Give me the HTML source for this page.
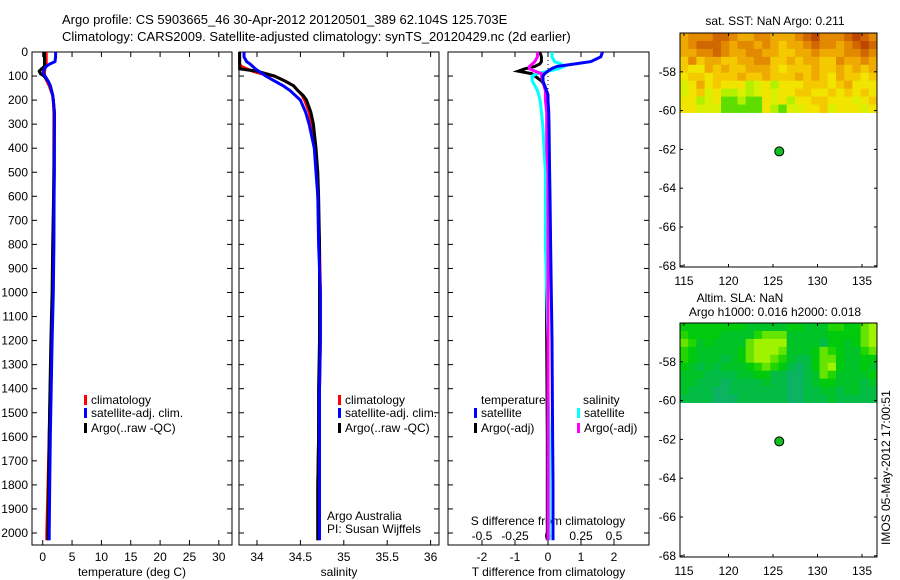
<!DOCTYPE html>
<html><head><meta charset="utf-8"><style>
body{margin:0;background:#fff}
svg{display:block;font-family:"Liberation Sans",sans-serif;font-size:12px}
</style></head><body>
<svg id="fig" width="900" height="580" xmlns="http://www.w3.org/2000/svg">
<rect width="900" height="580" fill="#fff"/>
<text x="62" y="24" font-size="13">Argo profile: CS 5903665_46 30-Apr-2012 20120501_389 62.104S 125.703E</text>
<text x="62" y="41" font-size="13">Climatology: CARS2009. Satellite-adjusted climatology: synTS_20120429.nc (2d earlier)</text>
<g id="g"></g>
<text transform="translate(890,545) rotate(-90)" font-size="12">IMOS 05-May-2012 17:00:51</text>
</svg>
<script>
// ---- profile data ----
const depth = [0,20,40,50,60,70,80,90,100,120,140,160,180,200,250,300,400,500,600,800,1000,1200,1400,1600,1800,2000,2030];
const tempClim = [0.6,0.6,0.6,0.6,0.5,0.4,0.3,0.3,0.3,0.7,1.1,1.4,1.7,1.8,1.9,1.9,1.9,1.9,1.85,1.8,1.7,1.5,1.3,1.1,0.9,0.7,0.7];
const tempSat = [2.2,2.2,2.1,1.2,0.6,0.3,0.1,0.1,0.4,0.9,1.3,1.5,1.7,1.8,2.0,2.0,2.0,2.0,1.95,1.9,1.8,1.6,1.45,1.3,1.2,1.1,1.1];
const tempArgo = [0.3,0.3,0.3,0.3,0.3,-0.2,-0.6,-0.4,0.2,0.9,1.3,1.5,1.7,1.8,2.0,2.0,1.95,1.9,1.85,1.7,1.6,1.4,1.25,1.1,1.0,0.9,0.9];
const salClim = [33.8,33.8,33.8,33.8,33.82,33.88,33.95,34.05,34.2,34.32,34.42,34.47,34.52,34.55,34.6,34.63,34.67,34.69,34.7,34.72,34.73,34.73,34.72,34.71,34.7,34.7,34.7];
const salSat = [33.85,33.85,33.88,33.92,33.95,33.98,34.02,34.06,34.1,34.2,34.3,34.38,34.44,34.5,34.56,34.6,34.66,34.68,34.7,34.71,34.73,34.73,34.72,34.72,34.72,34.72,34.72];
const salArgo = [33.8,33.8,33.8,33.8,33.8,33.8,34.0,34.1,34.2,34.32,34.42,34.47,34.53,34.57,34.62,34.65,34.68,34.7,34.71,34.72,34.72,34.72,34.71,34.71,34.7,34.7,34.7];
const dTSat = [1.65,1.6,1.3,0.8,0.27,0.1,0,-0.1,-0.15,-0.15,-0.1,-0.05,0,0,0.02,0.03,0.04,0.05,0.06,0.08,0.1,0.12,0.13,0.14,0.15,0.15,0.15];
const dTArgo = [-0.25,-0.2,-0.2,-0.25,-0.4,-0.7,-0.9,-0.5,-0.4,-0.2,-0.1,-0.05,0,0,0,0,-0.02,-0.03,-0.03,-0.05,-0.05,-0.04,-0.03,-0.02,-0.02,-0.02,-0.02];
const dSSat = [0.03,0.03,0.05,0.1,0.12,0.08,0.0,-0.08,-0.12,-0.12,-0.1,-0.08,-0.07,-0.06,-0.05,-0.04,-0.03,-0.02,-0.02,-0.02,-0.01,0,0,0.01,0.01,0.01,0.01];
const dSArgo = [-0.08,-0.08,-0.1,-0.12,-0.14,-0.14,-0.1,-0.05,-0.05,-0.04,-0.03,-0.02,-0.02,-0.02,-0.01,-0.01,-0.01,0,0,0,0,0,0,0,0,0,0];
const depthTicks = [0,100,200,300,400,500,600,700,800,900,1000,1100,1200,1300,1400,1500,1600,1700,1800,1900,2000];
const tempTicks = [0,5,10,15,20,25,30];
const salTicks = [34,34.5,35,35.5,36];
const salTickLabels = ["34","34.5","35","35.5","36"];
const dTTicks = [-2,-1,0,1,2];
const dSTicks = [-0.5,-0.25,0,0.25,0.5];
const dSTickLabels = ["-0.5","-0.25","0","0.25","0.5"];
// ---- map data ----
const lonTicks = [115,120,125,130,135];
const latTicks = [-58,-60,-62,-64,-66,-68];
const argoLon = 125.703, argoLat = -62.104;
const sstRows = [
"677788766776667897778987",
"678887677676566787767898",
"667787667766556676667787",
"575665566775565665576676",
"544656556665455565565656",
"455455565565556565465545",
"346454442342444555456444",
"345342232343445544545454",
"442341121143424455444345",
"443331111142133445344434"];
const slaRows = [
"444444443333344333554467",
"544443333566633333444467",
"653433336777733332443467",
"543333346777633346543356",
"543332346776532246643344",
"432323334565421246743343",
"333222233442211236533334",
"332221222232211234433323",
"322211222222211223323322",
"222211122222211222322222"];

const NS="http://www.w3.org/2000/svg", G=document.getElementById('g');
function el(t,a,p){const e=document.createElementNS(NS,t);for(const k in a)e.setAttribute(k,a[k]);(p||G).appendChild(e);return e;}
function txt(x,y,s,anchor,p){const e=el('text',{x:x,y:y,'text-anchor':anchor||'start'},p);e.textContent=s;return e;}
const yD = d => 52 + d*0.2405;

function panel(name,x0,x1,xs,ticks,labels,xlabel){
  const g=el('g',{});
  
  
  el('rect',{x:x0,y:52,width:x1-x0,height:493,fill:'none',stroke:'#000'},g);
  depthTicks.forEach(d=>{el('line',{x1:x0,x2:x0+5,y1:yD(d),y2:yD(d),stroke:'#000'},g);el('line',{x1:x1-5,x2:x1,y1:yD(d),y2:yD(d),stroke:'#000'},g);});
  if(ticks) ticks.forEach((t,i)=>{const x=xs(t);el('line',{x1:x,x2:x,y1:52,y2:57,stroke:'#000'},g);el('line',{x1:x,x2:x,y1:540,y2:545,stroke:'#000'},g);
    const l=txt(x,561,labels[i],'middle',g);});
  if(xlabel){const l=txt((x0+x1)/2,576,xlabel,'middle',g);}
  return g;
}
function line(g,xs,vals,color,name,w){
  const pts=vals.map((v,i)=>xs(v).toFixed(1)+','+yD(depth[i]).toFixed(1)).join(' ');
  const p=el('polyline',{points:pts,fill:'none',stroke:color,'stroke-width':w||3},g);
  
  
}
function legend(g,x,y,color,label){
  el('rect',{x:x,y:y-9,width:3,height:10,fill:color},g);
  const t=txt(x+7,y,label,'start',g);
  
  
}
depthTicks.forEach(d=>{const t=txt(28,yD(d)+4,String(d),'end');
  
  });

const xT = v => 42.7 + v*5.87;
const p1=panel('temperature-panel',32,232,xT,tempTicks,tempTicks.map(String),'temperature (deg C)');
line(p1,xT,tempClim,'#f00','temp-climatology-line');
line(p1,xT,tempArgo,'#000','temp-argo-line');
line(p1,xT,tempSat,'#00f','temp-satellite-line');
legend(p1,84,404,'#f00','climatology');legend(p1,84,417,'#00f','satellite-adj. clim.');legend(p1,84,432,'#000','Argo(..raw -QC)');

const xS = v => 257 + (v-34)*86.8;
const p2=panel('salinity-panel',239,439,xS,salTicks,salTickLabels,'salinity');
line(p2,xS,salClim,'#f00','sal-climatology-line');
line(p2,xS,salArgo,'#000','sal-argo-line');
line(p2,xS,salSat,'#00f','sal-satellite-line');
legend(p2,338,404,'#f00','climatology');legend(p2,338,417,'#00f','satellite-adj. clim.');legend(p2,338,432,'#000','Argo(..raw -QC)');
txt(327,520,'Argo Australia',null,p2);txt(327,533,'PI: Susan Wijffels',null,p2);

const xdT = v => 548 + v*33;
const xdS = v => 548 + v*132;
const p3=panel('difference-panel',448,649,xdT,dTTicks,dTTicks.map(String),'T difference from climatology');
dSTicks.forEach((t,i)=>{const x=xdS(t);el('line',{x1:x,x2:x,y1:540,y2:545,stroke:'#000'},p3);txt(x,540,dSTickLabels[i],'middle',p3);});
txt(548,525,'S difference from climatology','middle',p3);
el('line',{x1:xdT(0),x2:xdT(0),y1:52,y2:545,stroke:'#000','stroke-dasharray':'1,3'},p3);
line(p3,xdT,dTArgo,'#000','dT-argo-line');
line(p3,xdS,dSSat,'#0ff','dS-satellite-line');
line(p3,xdS,dSArgo,'#f0f','dS-argo-line');
line(p3,xdT,dTSat,'#00f','dT-satellite-line');
txt(481,404,'temperature',null,p3);txt(583,404,'salinity',null,p3);
legend(p3,474,417,'#00f','satellite');legend(p3,474,432,'#000','Argo(-adj)');
legend(p3,577,417,'#0ff','satellite');legend(p3,577,432,'#f0f','Argo(-adj)');

function lerp(a,b,t){return a.map((v,i)=>Math.round(v+(b[i]-v)*t));}
function ramp(stops,v){const n=stops.length-1;const s=Math.min(n-1e-6,v/9*n);const i=Math.floor(s);const c=lerp(stops[i],stops[i+1],s-i);return 'rgb('+c.join(',')+')';}
const sstStops=[[0,200,0],[170,240,0],[240,240,0],[245,190,0],[225,130,0],[190,70,0]];
const slaStops=[[20,170,130],[0,190,60],[0,205,0],[150,240,0],[230,255,0]];
function map(name,y0,rows,stops,titles){
  const g=el('g',{});
  
  
  const x0=680,x1=877,y1=y0+234;
  const xL=v=>684+(v-115)*8.9, yL=v=>y0+(-56-v)*19.4;
  const nr=rows.length,nc=rows[0].length, top=yL(-56), bot=yL(-60.1), cw=(x1-x0)/nc, rh=(bot-top)/nr;
  rows.forEach((r,i)=>{for(let j=0;j<nc;j++){const c=el('rect',{x:(x0+j*cw).toFixed(2),y:(top+i*rh).toFixed(2),width:(cw+0.4).toFixed(2),height:(rh+0.4).toFixed(2),fill:ramp(stops,+r[j])},g);
    
    }});
  el('rect',{x:x0,y:y0,width:x1-x0,height:234,fill:'none',stroke:'#000'},g);
  latTicks.forEach(v=>{const y=yL(v);el('line',{x1:x0,x2:x0+3,y1:y,y2:y,stroke:'#000'},g);el('line',{x1:x1-3,x2:x1,y1:y,y2:y,stroke:'#000'},g);txt(676,y+4,String(v),'end',g);});
  lonTicks.forEach(v=>{const x=xL(v);el('line',{x1:x,x2:x,y1:y0,y2:y0+3,stroke:'#000'},g);el('line',{x1:x,x2:x,y1:y1-3,y2:y1,stroke:'#000'},g);txt(x,y1+18,String(v),'middle',g);});
  const d=el('circle',{cx:xL(argoLon),cy:yL(argoLat),r:4.5,fill:'#10c020',stroke:'#000','stroke-width':1},g);
  
  
  titles.forEach((t,i)=>{const e=txt(t[1],t[2],t[0],'middle',g);});
}
map('sst-map',33,sstRows,sstStops,[['sat. SST: NaN Argo: 0.211',775,25]]);
map('sla-map',323,slaRows,slaStops,[['Altim. SLA: NaN',740,302],['Argo h1000: 0.016 h2000: 0.018',775,316]]);
</script>
</body></html>
